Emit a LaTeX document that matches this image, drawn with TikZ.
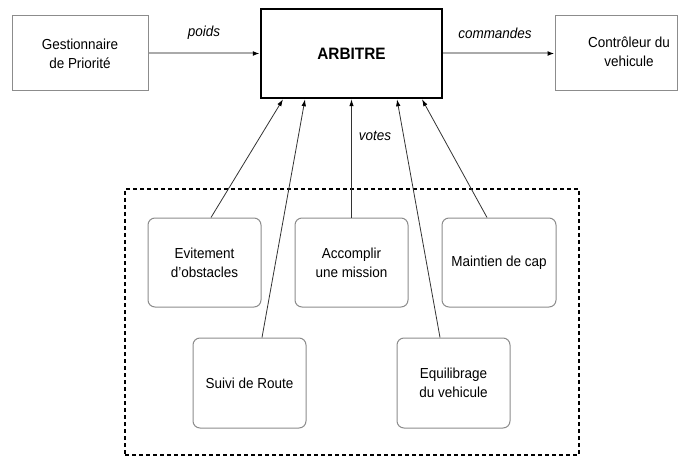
\documentclass[tikz,border=0pt]{standalone}
\usepackage{fontspec}
\setmainfont[FakeStretch=0.93]{Liberation Sans}
\usetikzlibrary{arrows.meta}
\definecolor{bordergray}{RGB}{140,140,140}
\definecolor{linegray}{RGB}{170,170,170}
\tikzset{
  plainbox/.style={draw=bordergray, line width=1pt, fill=white, inner sep=0pt, align=center, font=\fontsize{14.5}{19}\selectfont},
  roundbox/.style={plainbox, rounded corners=7pt},
  arbbox/.style={draw=black, line width=2.5pt, fill=white, inner sep=0pt, align=center, font=\fontsize{16.5}{18}\selectfont\bfseries},
  txt/.style={align=center, inner sep=0pt, font=\fontsize{14.5}{19}\selectfont},
  lbl/.style={inner sep=0pt, font=\fontsize{14.5}{16}\selectfont\itshape},
  flow/.style={draw=linegray, line width=2pt, -{Latex[length=7pt,width=5pt,fill=black,color=black]}},
  vote/.style={draw=black!80, line width=0.8pt, -{Latex[length=7pt,width=4.5pt,color=black,fill=black]}},
  group/.style={draw=black, line width=1.6pt, dash pattern=on 4pt off 3pt}
}
\begin{document}
\begin{tikzpicture}[x=1pt,y=-1pt]
\useasboundingbox (0,0) rectangle (679,457);
% dashed group
\node[group, minimum width=454pt, minimum height=266pt, inner sep=0pt] (grp) at (352,322) {};
% top row
\node[plainbox, minimum width=136pt, minimum height=75pt] (gest) at (80,53.5) {Gestionnaire\\de Priorité};
\node[arbbox, minimum width=181pt, minimum height=89pt] (arb) at (351.5,53.5) {ARBITRE};
\node[plainbox, minimum width=122pt, minimum height=75pt] (ctrl) at (616,53.5) {};
\node[txt] (ctrltxt) at (629,52) {Contrôleur du\\vehicule};
% behaviours
\node[roundbox, minimum width=113pt, minimum height=89pt] (evit) at (204.5,262.5) {Evitement\\d'obstacles};
\node[roundbox, minimum width=113pt, minimum height=89pt] (acc) at (351.5,262.5) {Accomplir\\une mission};
\node[roundbox, minimum width=114pt, minimum height=89pt] (maint) at (499,262.5) {Maintien de cap};
\node[roundbox, minimum width=113pt, minimum height=90pt] (suivi) at (249.5,383) {Suivi de Route};
\node[roundbox, minimum width=113pt, minimum height=90pt] (equil) at (453.5,383) {Equilibrage\\du vehicule};
% flows
\draw[flow] (gest.east) -- (arb.west |- gest.east);
\draw[flow] (arb.east |- ctrl.west) -- (ctrl.west);
\node[lbl] (poids) at (204,33) {poids};
\node[lbl] (cmd) at (495,33) {commandes};
\node[lbl] (votes) at (375,136) {votes};
% votes
\draw[vote] ([xshift=6.5pt]evit.north) -- ([xshift=-68.5pt]arb.south);
\draw[vote] ([xshift=12.5pt]suivi.north) -- ([xshift=-46.5pt]arb.south);
\draw[vote] (acc.north) -- (arb.south);
\draw[vote] ([xshift=-13.5pt]equil.north) -- ([xshift=45.5pt]arb.south);
\draw[vote] ([xshift=-12pt]maint.north) -- ([xshift=70.5pt]arb.south);
\end{tikzpicture}
\end{document}
